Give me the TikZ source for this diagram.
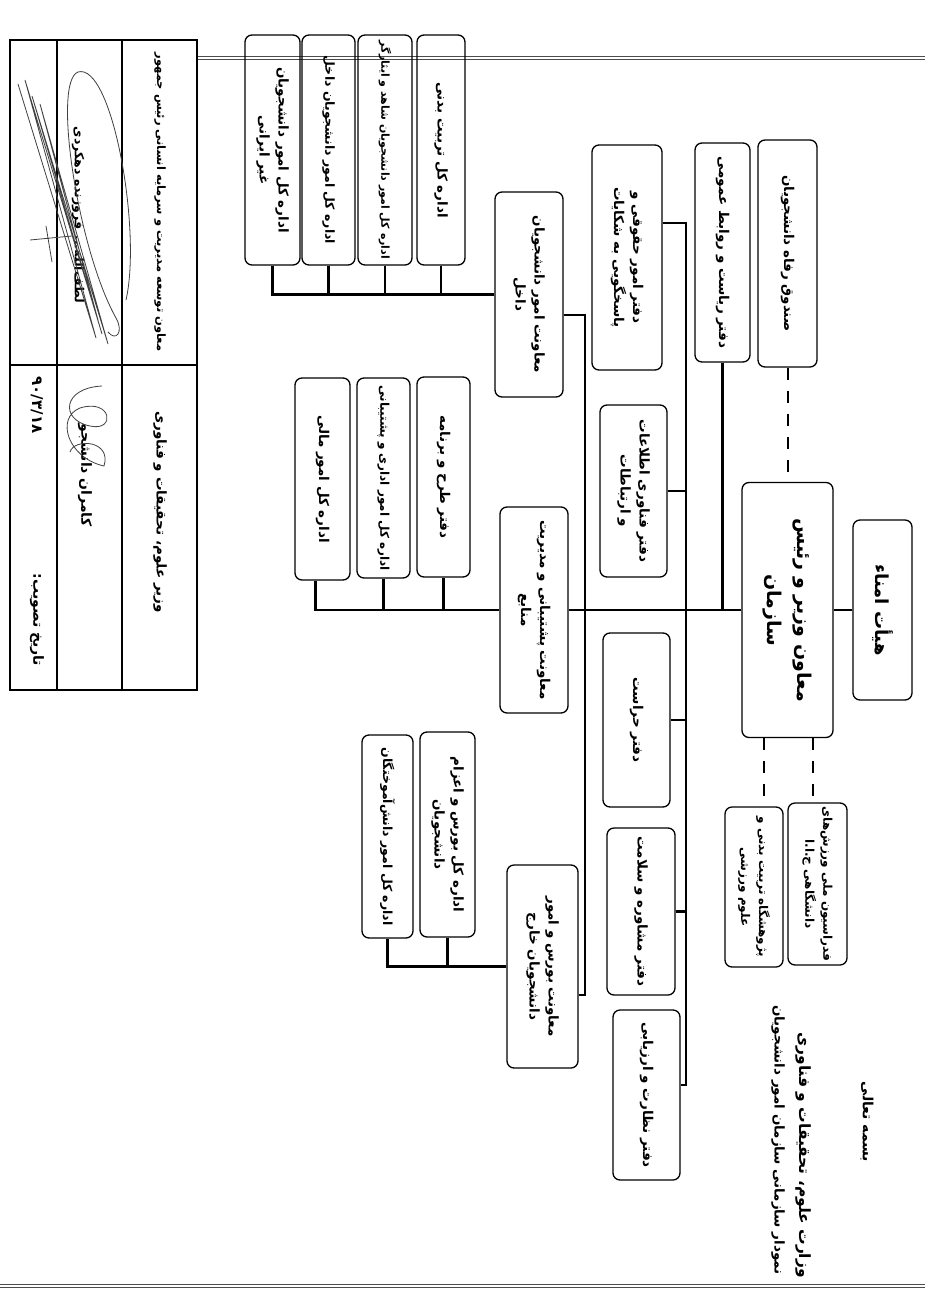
\documentclass[tikz,border=0pt]{standalone}
\usepackage{fontspec}
\TeXXeTstate=1
\newfontfamily\farsi[Script=Arabic]{DejaVu Sans}
\newcommand\FA[1]{\beginR #1\endR}
\usetikzlibrary{calc}
\begin{document}
\begin{tikzpicture}[x=1pt,y=-1pt,
  box/.style 2 args={draw, line width=1.3pt, rounded corners=7pt, rotate=-90, align=center,
     inner sep=1pt, minimum width=#1, minimum height=#2, font=\farsi\bfseries\fontsize{13.5}{19}\selectfont},
  conn/.style={line width=2.2pt},
  dconn/.style={line width=2pt, dash pattern=on 12pt off 11pt},
  lbl/.style={rotate=-90, inner sep=0pt},
  sig/.style={line width=0.8pt, black!75}
]
\useasboundingbox (0,0) rectangle (925,1311);
\fill[white] (0,0) rectangle (925,1311);
% scan margin lines
\draw[black!70, line width=0.8pt] (197,56) -- (925,56) (197,59.5) -- (925,59.5);
\draw[black!70, line width=0.8pt] (0,1284) -- (925,1284) (0,1287.5) -- (925,1287.5);

% top level
\node[box={180pt}{59pt}, font=\farsi\bfseries\fontsize{18}{22}\selectfont] (amana) at (882.5,610) {\FA{هیأت امناء}};
\node[box={255pt}{91pt}, font=\farsi\bfseries\fontsize{19}{30}\selectfont] (main) at (787.5,610) {\FA{معاون وزیر و رئیس}\\\FA{سازمان}};
\node[box={227pt}{59pt}] (sandogh) at (787.5,253.5) {\FA{صندوق رفاه دانشجویان}};
\node[box={219pt}{55pt}] (riasat) at (722.5,252.5) {\FA{دفتر ریاست و روابط عمومی}};
\node[box={162pt}{59pt}, font=\farsi\bfseries\fontsize{12}{18}\selectfont] (federasion) at (817.5,884) {\FA{فدراسیون ملی ورزش^^^^200cهای}\\\FA{دانشگاهی ج.ا.ا}};
\node[box={160pt}{58pt}, font=\farsi\bfseries\fontsize{12}{18}\selectfont] (pajoohesh) at (754,887) {\FA{پژوهشگاه تربیت بدنی و}\\\FA{علوم ورزشی}};

% offices
\node[box={225pt}{70pt}] (hoghoghi) at (627,257.5) {\FA{دفتر امور حقوقی و}\\\FA{پاسخگویی به شکایات}};
\node[box={172pt}{67pt}] (fanavari) at (633.5,491) {\FA{دفتر فناوری اطلاعات}\\\FA{و ارتباطات}};
\node[box={174pt}{67pt}] (herasat) at (636.5,720) {\FA{دفتر حراست}};
\node[box={167pt}{68pt}] (moshavere) at (641,911.5) {\FA{دفتر مشاوره و سلامت}};
\node[box={170pt}{67pt}] (nezarat) at (646.5,1095) {\FA{دفتر نظارت و ارزیابی}};

% deputies
\node[box={205pt}{68pt}] (madakhel) at (529,294.5) {\FA{معاونت امور دانشجویان}\\\FA{داخل}};
\node[box={206pt}{68pt}] (mposht) at (534,610) {\FA{معاونت پشتیبانی و مدیریت}\\\FA{منابع}};
\node[box={203pt}{71pt}] (mboors) at (542.5,966.5) {\FA{معاونت بورس و امور}\\\FA{دانشجویان خارج}};

% general departments
\node[box={230pt}{48pt}] (tarbiat) at (441,150) {\FA{اداره کل تربیت بدنی}};
\node[box={230pt}{54pt}, font=\farsi\bfseries\fontsize{11}{15}\selectfont] (shahed) at (385,150) {\FA{اداره کل امور دانشجویان شاهد و ایثارگر}};
\node[box={230pt}{53pt}, font=\farsi\bfseries\fontsize{12.5}{17}\selectfont] (dakhel) at (328.5,150) {\FA{اداره کل امور دانشجویان داخل}};
\node[box={230pt}{55pt}] (gheiriran) at (272.5,150) {\FA{اداره کل امور دانشجویان}\\\FA{غیر ایرانی}};
\node[box={200pt}{53pt}] (tarh) at (443.5,477) {\FA{دفتر طرح و برنامه}};
\node[box={200pt}{53pt}, font=\farsi\bfseries\fontsize{12}{17}\selectfont] (edari) at (383.5,478) {\FA{اداره کل امور اداری و پشتیبانی}};
\node[box={202pt}{55pt}] (mali) at (322.5,479) {\FA{اداره کل امور مالی}};
\node[box={205pt}{55pt}] (boors) at (447.5,834.5) {\FA{اداره کل بورس و اعزام}\\\FA{دانشجویان}};
\node[box={203pt}{51pt}, font=\farsi\bfseries\fontsize{12.5}{17}\selectfont] (amookhte) at (387.5,836.5) {\FA{اداره کل امور دانش^^^^200cآموختگان}};

% connectors
\draw[conn] (amana) -- (main);
\draw[conn] (main) -- (mposht);
\draw[conn] (riasat.east) -- (riasat.east |- main.south);
\draw[dconn] (sandogh) -- (main);
\draw[dconn] ([xshift=-24pt]main.east) -- ([xshift=-24pt]main.east |- pajoohesh.west);
\draw[dconn] ([xshift=25pt]main.east) -- ([xshift=25pt]main.east |- federasion.west);

\coordinate (vA1) at (585,315);
\coordinate (vA2) at (585,995);
\draw[conn] (madakhel.north |- vA1) -- (vA1) -- (vA2) -- (mboors.north |- vA2);

\coordinate (vB1) at (686,223);
\coordinate (vB2) at (686,1085);
\draw[conn] (hoghoghi.north |- vB1) -- (vB1) -- (vB2) -- (nezarat.north |- vB2);
\foreach \n in {fanavari,herasat,moshavere} \draw[conn] (\n.north) -- (\n.north -| vB1);

\draw[conn] (madakhel.south) -| (gheiriran.east);
\foreach \n in {dakhel,shahed,tarbiat} \draw[conn] (\n.east) -- (\n.east |- madakhel.south);

\draw[conn] (mposht.south) -| ([xshift=-7pt]mali.east);
\foreach \n in {edari,tarh} \draw[conn] (\n.east) -- (\n.east |- mposht.south);

\draw[conn] (mboors.south) -| (amookhte.east);
\draw[conn] (boors.east) -- (boors.east |- mboors.south);

% title
\node[lbl, font=\farsi\bfseries\fontsize{14}{16}\selectfont] (besm) at (867,1122) {\FA{بسمه تعالی}};
\node[lbl, font=\farsi\bfseries\fontsize{15.5}{18}\selectfont] (t1) at (803,1155) {\FA{وزارت علوم، تحقیقات و فناوری}};
\node[lbl, font=\farsi\bfseries\fontsize{13.5}{18}\selectfont] (t2) at (778,1140) {\FA{نمودار سازمانی سازمان امور دانشجویان}};

% approval table
\draw[line width=1.5pt] (10,40) rectangle (197,690);
\draw[line width=1.2pt] (57,40) -- (57,690) (122,40) -- (122,690) (10,365) -- (197,365);
\node[lbl, font=\farsi\bfseries\fontsize{11.5}{16}\selectfont] (tb1) at (160,202) {\FA{معاون توسعه مدیریت و سرمایه انسانی رئیس جمهور}};
\node[lbl, font=\farsi\bfseries\fontsize{13.5}{16}\selectfont] (tb2) at (160,512) {\FA{وزیر علوم، تحقیقات و فناوری}};
\node[lbl, font=\farsi\bfseries\fontsize{12.5}{16}\selectfont] (tb3) at (78,215) {\FA{لطف^^^^200cالله... فروزنده دهکردی}};
\node[lbl, font=\farsi\bfseries\fontsize{14}{16}\selectfont] (tb4) at (85,475) {\FA{کامران دانشجو}};
\node[lbl, font=\farsi\bfseries\fontsize{15}{16}\selectfont] (tb5) at (37,405) {۹۰/۳/۱۸};
\node[lbl, font=\farsi\bfseries\fontsize{14}{16}\selectfont] (tb6) at (37,620) {\FA{تاریخ تصویب:}};
% signatures
\draw[sig] (126,300) .. controls (142,230) and (112,62) .. (78,72) .. controls (52,82) and (78,250) .. (116,318) .. controls (124,332) and (116,342) .. (108,332);
\draw[sig] (18,84) -- (96,338) -- (25,80) -- (102,334) -- (32,96) -- (108,344) -- (40,104) -- (98,320);
\draw[sig] (30,240) -- (72,236) (46,226) -- (52,262);
\draw[sig] (102,386) .. controls (62,388) and (60,420) .. (90,426) .. controls (116,432) and (112,398) .. (80,408) .. controls (55,418) and (68,458) .. (104,466) .. controls (112,440) and (74,438) .. (70,452);
\end{tikzpicture}
\end{document}
